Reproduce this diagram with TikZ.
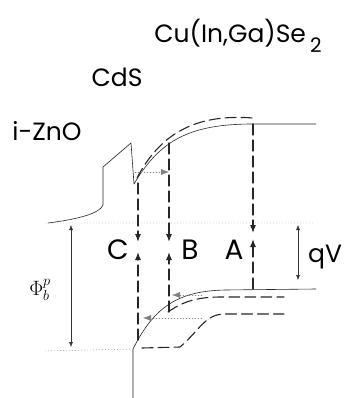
\documentclass[tikz,border=0pt]{standalone}
\usepackage{fontspec}
\setmainfont{Poppins}
\usetikzlibrary{arrows.meta}
\begin{document}
\begin{tikzpicture}[x=1pt, y=-1pt, line join=round, line cap=round, >={Latex[length=8pt,width=6pt]},
	band/.style={line width=0.6pt, black!85},
	moved/.style={line width=1.1pt, black!85, dash pattern=on 11pt off 5pt},
	level/.style={line width=0.4pt, gray, dash pattern=on 1pt off 2pt},
	gap/.style={line width=0.5pt, black!80, {Latex[length=5pt,width=4pt]}-{Latex[length=5pt,width=4pt]}},
	layer/.style={font=\fontsize{25}{28}\selectfont, inner sep=0pt},
	path/.style={font=\fontsize{28}{30}\selectfont, inner sep=0pt}]
	\useasboundingbox (0,0) rectangle (343,398);
	\path
	(48,223) coordinate (Z0)
	(103,205) coordinate (Z1)
	(103,167) coordinate (Z2)
	(131,143) coordinate (S1)
	(134,184) coordinate (S2)
	(253,124) coordinate (Ec)
	(316,124) coordinate (E)
	(133,398) coordinate (V0)
	(133,349) coordinate (V1)
	(225,290) coordinate (Ev)
	(316,289) coordinate (V)
	(138,183) coordinate (C1) (138,242) coordinate (C2) (138,340) coordinate (C3) (138,252) coordinate (C4)
	(169,143) coordinate (B1) (169,242) coordinate (B2) (169,312) coordinate (B3) (169,252) coordinate (B4)
	(253,124) coordinate (A1) (253,233) coordinate (A2) (253,289) coordinate (A3) (253,239) coordinate (A4);
	\draw[level] (45,223) -- (313,223) (45,351) -- (V1);
	\draw[band] (Z0) .. controls (80,219) and (100,213) .. (Z1) -- (Z2) -- (S1) -- (S2)
		.. controls (160,140) and (190,124) .. (Ec) -- (E);
	\draw[band] (V0) -- (V1) .. controls (155,305) and (180,291) .. (Ev) -- (V);
	\draw[moved] (137,178) .. controls (162,130) and (200,114) .. (253,118);
	\draw[moved] (168,312) .. controls (185,300) and (200,297) .. (222,297) -- (284,297);
	\draw[moved] (142,348) -- (180,347) .. controls (200,330) and (205,314) .. (225,314) -- (284,314);
	\foreach \p in {C,B,A}{
	\draw[moved,->] (\p1)--(\p2);
	\draw[moved,->] (\p3)--(\p4);}
	\draw[level,->] (135,172) -- (B1 |- 0,172);
	\draw[level,->] (202,295) -- (172,295);
	\draw[level,->] (202,318) -- (143,318);
	\draw[gap] (298,225) -- (298,280);
	\draw[gap] (71,225) -- (71,347);
	\node[layer] (cigs) at (238,36) {Cu(In,Ga)Se\,\raisebox{-0.4em}{\fontsize{20}{22}\selectfont 2}};
	\node[layer] (cds) at (117,77) {CdS};
	\node[layer] (zno) at (47,131) {i-ZnO};
	\foreach \p/\x in {C/118,B/190,A/234}
	\node[path] (lab\p) at (\x,250) {\p};
	\node[layer, anchor=west] (qv) at (308,257) {qV};
	\node[inner sep=0pt, font=\fontsize{22}{24}\selectfont] (phi) at (40,290) {$\Phi_b^p$};
\end{tikzpicture}
\end{document}
